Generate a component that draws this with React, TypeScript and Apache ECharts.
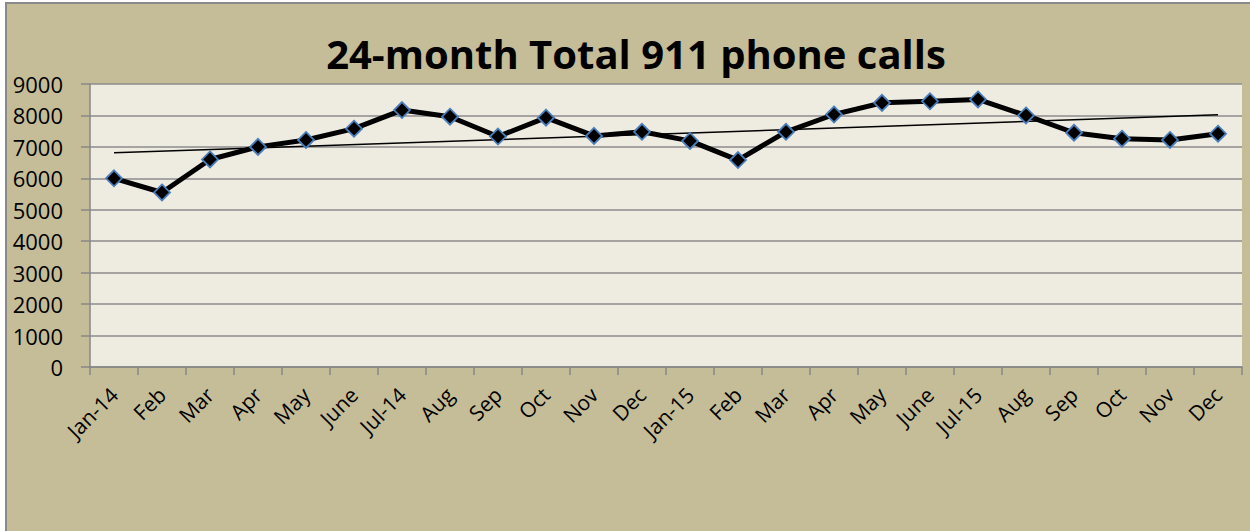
import React, { useEffect, useRef } from "react";
import * as echarts from "echarts";

const categories = [
  "Jan-14", "Feb", "Mar", "Apr", "May", "June", "Jul-14", "Aug", "Sep", "Oct", "Nov", "Dec",
  "Jan-15", "Feb", "Mar", "Apr", "May", "June", "Jul-15", "Aug", "Sep", "Oct", "Nov", "Dec",
];
const calls = [
  6000, 5550, 6600, 7000, 7220, 7580, 8170, 7960, 7330, 7930, 7350, 7480,
  7190, 6580, 7480, 8030, 8400, 8450, 8510, 8000, 7450, 7260, 7220, 7420,
];
// Linear trendline end values (first and last month)
const trendStart = 6810;
const trendEnd = 8020;

const yMin = 0;
const yMax = 9000;
const yInterval = 1000;

const titleText = "24-month Total 911 phone calls";
const FONT = "Open Sans";

export default function App() {
  const ref = useRef<HTMLDivElement>(null);
  useEffect(() => {
    if (!ref.current) return;
    const chart = echarts.init(ref.current, undefined, { renderer: "svg" });
    const trendData = categories.map((_, i) =>
      i === 0 ? trendStart : i === categories.length - 1 ? trendEnd : null
    );
    chart.setOption({
      animation: false,
      backgroundColor: "#ffffff",
      textStyle: { fontFamily: FONT },
      graphic: [
        {
          type: "rect",
          z: -10,
          silent: true,
          shape: { x: 6, y: 3, width: 1270, height: 560 },
          style: { fill: "#c5bd98", stroke: "#8a8a8a", lineWidth: 2 },
        },
      ],
      title: {
        text: titleText,
        left: 631,
        top: 28,
        textAlign: "center",
        textStyle: { fontFamily: FONT, fontWeight: "bold", fontSize: 40, color: "#000" },
      },
      grid: {
        left: 90,
        right: 8,
        top: 84,
        bottom: 164,
        show: true,
        backgroundColor: "#eeebe1",
        borderWidth: 0,
        containLabel: false,
      },
      xAxis: {
        type: "category",
        data: categories,
        boundaryGap: true,
        axisLine: { show: true, lineStyle: { color: "#878787", width: 1.5 } },
        axisTick: { show: true, length: 8, alignWithLabel: false, lineStyle: { color: "#878787", width: 1.5 } },
        axisLabel: {
          rotate: 45,
          interval: 0,
          margin: 24,
          color: "#000",
          fontSize: 21,
          fontFamily: FONT,
        },
        splitLine: { show: false },
      },
      yAxis: {
        type: "value",
        min: yMin,
        max: yMax,
        interval: yInterval,
        axisLine: { show: true, lineStyle: { color: "#878787", width: 1.5 } },
        axisTick: { show: true, length: 9, lineStyle: { color: "#878787", width: 1.5 } },
        axisLabel: {
          color: "#000",
          fontSize: 22,
          margin: 27,
          fontFamily: FONT,
          formatter: (v: number) => String(v),
        },
        splitLine: { show: true, lineStyle: { color: "#8c8c8c", width: 1.5 } },
      },
      series: [
        {
          name: "Total 911 calls",
          type: "line",
          data: calls,
          symbol: "diamond",
          symbolSize: 16,
          lineStyle: { color: "#000", width: 5 },
          itemStyle: { color: "#000", borderColor: "#4a7ebb", borderWidth: 1.8 },
          z: 3,
        },
        {
          name: "Trend",
          type: "line",
          data: trendData,
          connectNulls: true,
          symbol: "none",
          lineStyle: { color: "#000", width: 1.5 },
          z: 2,
        },
      ],
    });
    return () => chart.dispose();
  }, []);
  return (
    <div
      ref={ref}
      style={{ position: "fixed", left: 0, top: 0, width: 1250, height: 531 }}
    />
  );
}
